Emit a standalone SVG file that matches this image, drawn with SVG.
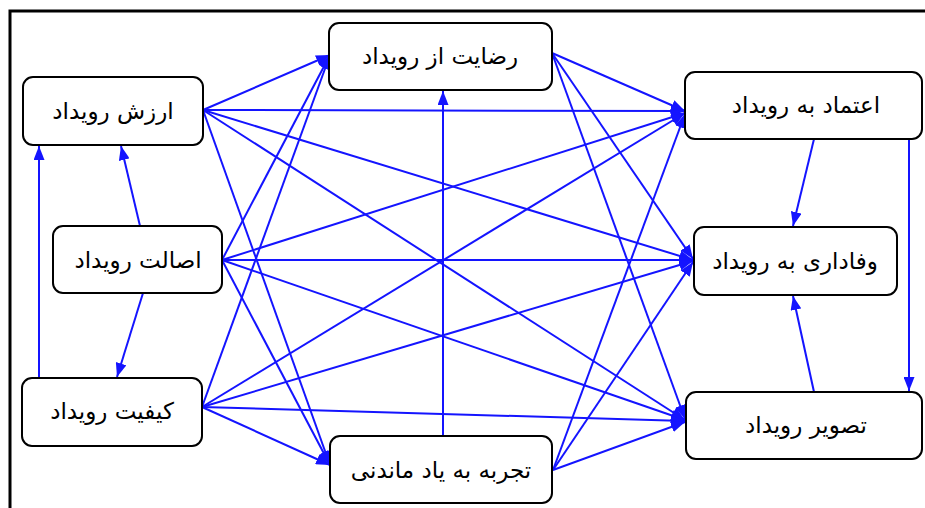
<svg xmlns="http://www.w3.org/2000/svg" width="925" height="508" viewBox="0 0 925 508">
<style>
.box{fill:#fff;stroke:#000;stroke-width:2}
.lbl{font-family:"DejaVu Sans","Noto Sans",sans-serif;font-size:23px;fill:#000;text-anchor:middle;dominant-baseline:central}
.c line{stroke:#1414ff;stroke-width:2;marker-end:url(#ah)}
.frame{stroke:#000;stroke-width:3;fill:none}
</style>
<defs>
<marker id="ah" markerUnits="userSpaceOnUse" markerWidth="14" markerHeight="11" refX="14" refY="5.5" orient="auto">
<path d="M0,0 L14,5.5 L0,11 z" fill="#1414ff"/>
</marker>
</defs>
<rect width="925" height="508" fill="#fff"/>
<path class="frame" d="M10,508 V11 H925"/>
<g class="c" id="connectors">
<line x1="203" y1="110" x2="330" y2="55"/>
<line x1="203" y1="110" x2="685" y2="111"/>
<line x1="203" y1="110" x2="693" y2="260"/>
<line x1="203" y1="110" x2="685" y2="420"/>
<line x1="203" y1="110" x2="330" y2="465"/>
<line x1="222" y1="260" x2="330" y2="55"/>
<line x1="222" y1="260" x2="685" y2="113"/>
<line x1="222" y1="260" x2="693" y2="260"/>
<line x1="222" y1="260" x2="685" y2="420"/>
<line x1="222" y1="260" x2="330" y2="465"/>
<line x1="140" y1="226" x2="121" y2="146"/>
<line x1="143" y1="293" x2="117" y2="377"/>
<line x1="202" y1="407" x2="330" y2="55"/>
<line x1="202" y1="407" x2="685" y2="113"/>
<line x1="202" y1="407" x2="693" y2="261"/>
<line x1="202" y1="407" x2="685" y2="421"/>
<line x1="202" y1="407" x2="330" y2="465"/>
<line x1="39" y1="378" x2="39" y2="146"/>
<line x1="443" y1="436" x2="443" y2="91"/>
<line x1="553" y1="470" x2="685" y2="114"/>
<line x1="553" y1="470" x2="693" y2="262"/>
<line x1="553" y1="470" x2="685" y2="422"/>
<line x1="552" y1="53" x2="685" y2="111"/>
<line x1="552" y1="53" x2="693" y2="259"/>
<line x1="552" y1="53" x2="685" y2="419"/>
<line x1="814" y1="139" x2="793" y2="226"/>
<line x1="909" y1="139" x2="909" y2="391"/>
<line x1="814" y1="392" x2="793" y2="296"/>
</g>
<g id="arzesh"><rect class="box" x="23" y="77" width="180" height="68" rx="10"/><text class="lbl" x="113" y="111">ارزش رویداد</text></g>
<g id="esalat"><rect class="box" x="53" y="226" width="169" height="67" rx="10"/><text class="lbl" x="138" y="260">اصالت رویداد</text></g>
<g id="keyfiat"><rect class="box" x="22" y="378" width="180" height="68" rx="10"/><text class="lbl" x="112" y="411">کیفیت رویداد</text></g>
<g id="rezayat"><rect class="box" x="329" y="23" width="223" height="67" rx="10"/><text class="lbl" x="440" y="56">رضایت از رویداد</text></g>
<g id="tajrobe"><rect class="box" x="330" y="436" width="222" height="67" rx="10"/><text class="lbl" x="441" y="470">تجربه به یاد ماندنی</text></g>
<g id="etemad"><rect class="box" x="685" y="72" width="237" height="67" rx="10"/><text class="lbl" x="806" y="105">اعتماد به رویداد</text></g>
<g id="vafa"><rect class="box" x="694" y="227" width="203" height="68" rx="10"/><text class="lbl" x="795" y="261">وفاداری به رویداد</text></g>
<g id="tasvir"><rect class="box" x="686" y="392" width="236" height="67" rx="10"/><text class="lbl" x="806" y="425">تصویر رویداد</text></g>
</svg>
